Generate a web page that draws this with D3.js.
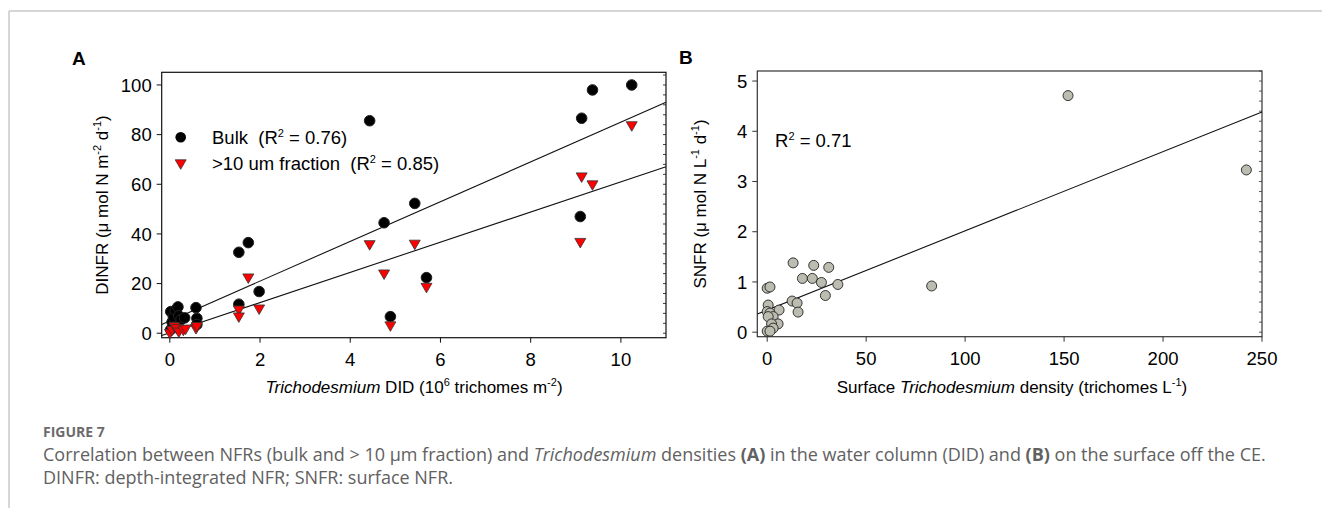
<!DOCTYPE html>
<html>
<head>
<meta charset="utf-8">
<script src="https://cdn.jsdelivr.net/npm/d3@7"></script>
<style>
  body { margin: 0; background: #fff; }
  svg text { font-family: Arial, "Liberation Sans", sans-serif; white-space: pre; }
  .cap { font-family: "Open Sans", "Noto Sans", sans-serif !important; }
</style>
</head>
<body>
<script>
// panel A: depth-integrated NFR vs Trichodesmium DID
const bulkX = [0.02, 0.05, 0.08, 0.1, 0.12, 0.18, 0.2, 0.25, 0.33, 0.02, 0.58, 0.6, 0.6,
               1.53, 1.74, 1.53, 1.98, 4.43, 4.75, 4.89, 5.43, 5.69, 9.1, 9.13, 9.37, 10.24];
const bulkY = [8.7, 4.5, 6.5, 2.5, 9.3, 10.6, 7.0, 5.5, 6.2, 1.5, 10.3, 6.0, 3.5,
               32.6, 36.5, 11.7, 16.8, 85.6, 44.5, 6.7, 52.3, 22.4, 47.0, 86.6, 98.0, 100.0];
const fracX = [0.0, 0.05, 0.1, 0.15, 0.2, 0.3, 0.35, 0.58, 0.6,
               1.53, 1.53, 1.74, 1.98, 4.43, 4.75, 4.89, 5.43, 5.69, 9.1, 9.13, 9.37, 10.24];
const fracY = [0.3, 1.5, 3.0, 2.2, 0.8, 1.5, 2.0, 2.2, 3.0,
               9.7, 6.9, 22.6, 10.1, 36.0, 24.2, 3.3, 36.2, 18.8, 36.9, 63.3, 60.1, 83.9];
const fitSlopeA = [8.0, 6.08];
const fitInterceptA = [5.0, 0.2];
const xTicksA = [0, 2, 4, 6, 8, 10];
const yTicksA = [0, 20, 40, 60, 80, 100];

// panel B: surface NFR vs surface Trichodesmium density
const surfX = [13.1, 23.5, 31.1, 17.8, 22.8, 27.4, 35.7, 29.4, 12.6, 15.1, 15.6, 6.0,
               0.0, 1.4, 0.5, 0.0, 1.4, 3.0, 0.5, 5.5, 2.2, 3.0, 0.0, 1.4, 83.1, 152.0, 242.1];
const surfY = [1.38, 1.33, 1.29, 1.07, 1.07, 0.99, 0.95, 0.73, 0.62, 0.58, 0.40, 0.44,
               0.875, 0.9, 0.54, 0.41, 0.38, 0.31, 0.31, 0.165, 0.165, 0.08, 0.02, 0.02, 0.92, 4.71, 3.23];
const fitB = [0.01577, 0.44];
const xTicksB = [0, 50, 100, 150, 200, 250];
const yTicksB = [0, 1, 2, 3, 4, 5];

width = 1322;
height = 508;
svg = d3.select('body').append('svg')
  .attr('width', width)
  .attr('height', height);

// page frame
svg.append('line').attr('x1', 9).attr('x2', width).attr('y1', 11).attr('y2', 11)
  .attr('stroke', '#c9c9c9').attr('stroke-width', 1.5);
svg.append('line').attr('x1', 9).attr('x2', 9).attr('y1', 11).attr('y2', height)
  .attr('stroke', '#c9c9c9').attr('stroke-width', 1.5);

function drawFrame(g, x, y, xTicks, yTicks, minorStep, minorMax, color) {
  const [x0, x1] = x.range();
  const [y0, y1] = y.range();
  g.append('rect').attr('x', x0).attr('y', y1).attr('width', x1 - x0).attr('height', y0 - y1)
    .attr('fill', 'none').attr('stroke', color).attr('stroke-width', 1.2);
  // left ticks + labels
  yTicks.forEach(t => {
    g.append('line').attr('x1', x0 - 5).attr('x2', x0).attr('y1', y(t)).attr('y2', y(t))
      .attr('stroke', color);
    g.append('text').attr('x', x0 - 10).attr('y', y(t)).attr('dy', '0.36em')
      .attr('text-anchor', 'end').style('font-size', '18.5px').text(t);
  });
  xTicks.forEach(t => {
    g.append('line').attr('x1', x(t)).attr('x2', x(t)).attr('y1', y0).attr('y2', y0 + 5)
      .attr('stroke', color);
    g.append('text').attr('x', x(t)).attr('y', y0 + 28)
      .attr('text-anchor', 'middle').style('font-size', '18.5px').text(t);
  });
  // minor ticks on the right axis
  d3.range(0, minorMax + minorStep / 2, minorStep).forEach(t => {
    g.append('line').attr('x1', x1 - 3).attr('x2', x1).attr('y1', y(t)).attr('y2', y(t))
      .attr('stroke', color).attr('stroke-width', 0.8);
  });
}

function fitLine(g, x, slope, intercept) {
  const [a, b] = x.domain();
  g.append('line')
    .attr('x1', x(a)).attr('y1', g.yScale(slope * a + intercept))
    .attr('x2', x(b)).attr('y2', g.yScale(slope * b + intercept))
    .attr('stroke', '#111').attr('stroke-width', 1.1);
}

// superscript helper
function sup(t, s) {
  t.append('tspan').attr('dy', -7).style('font-size', '11px').text(s);
}
function back(t, s) {
  t.append('tspan').attr('dy', 7).text(s);
}

const triPath = 'M-5.5,-3.2L5.5,-3.2L0,6.3Z';

// ---------- panel A ----------
xA = d3.scaleLinear().domain([-0.18, 11.0]).range([161.7, 666]);
yA = d3.scaleLinear().domain([-1.8, 105.1]).range([337.7, 72.3]);
gA = svg.append('g');
gA.yScale = yA;
drawFrame(gA, xA, yA, xTicksA, yTicksA, 4, 104, '#111');
fitLine(gA, xA, fitSlopeA[0], fitInterceptA[0]);
fitLine(gA, xA, fitSlopeA[1], fitInterceptA[1]);

gA.selectAll('.bulk').data(bulkX).join('circle')
  .attr('cx', d => xA(d)).attr('cy', (d, i) => yA(bulkY[i])).attr('r', 5.3)
  .attr('fill', '#000').attr('stroke', '#222');
gA.selectAll('.frac').data(fracX).join('path')
  .attr('d', triPath)
  .attr('transform', (d, i) => 'translate(' + xA(d) + ',' + yA(fracY[i]) + ')')
  .attr('fill', '#ff0000').attr('stroke', '#333').attr('stroke-width', 0.8);

// legend
gA.append('circle').attr('cx', 180.7).attr('cy', 137.3).attr('r', 5.3).attr('fill', '#000');
gA.append('path').attr('d', triPath).attr('transform', 'translate(180.7,163)')
  .attr('fill', '#ff0000').attr('stroke', '#333').attr('stroke-width', 0.8);
leg1 = gA.append('text').attr('x', 212).attr('y', 144).style('font-size', '18.5px');
leg1.append('tspan').text('Bulk  (R');
sup(leg1, '2');
back(leg1, ' = 0.76)');
leg2 = gA.append('text').attr('x', 212).attr('y', 170).style('font-size', '18.5px');
leg2.append('tspan').text('>10 um fraction  (R');
sup(leg2, '2');
back(leg2, ' = 0.85)');

gA.append('text').attr('x', 72).attr('y', 65).style('font-size', '19px')
  .style('font-weight', 'bold').text('A');

ytA = gA.append('text').attr('transform', 'translate(108,205) rotate(-90)')
  .attr('text-anchor', 'middle').style('font-size', '17px');
ytA.append('tspan').text('DINFR (μ mol N m');
sup(ytA, '-2');
back(ytA, ' d');
sup(ytA, '-1');
back(ytA, ')');

xtA = gA.append('text').attr('x', 414).attr('y', 393)
  .attr('text-anchor', 'middle').style('font-size', '17px');
xtA.append('tspan').style('font-style', 'italic').text('Trichodesmium');
xtA.append('tspan').text(' DID (10');
sup(xtA, '6');
back(xtA, ' trichomes m');
sup(xtA, '-2');
back(xtA, ')');

// ---------- panel B ----------
xB = d3.scaleLinear().domain([-5, 250]).range([757.3, 1262]);
yB = d3.scaleLinear().domain([-0.09, 5.2]).range([336.7, 71]);
gB = svg.append('g');
gB.yScale = yB;
drawFrame(gB, xB, yB, xTicksB, yTicksB, 0.2, 5.2, '#333');
fitLine(gB, xB, fitB[0], fitB[1]);

gB.selectAll('.surf').data(surfX).join('circle')
  .attr('cx', d => xB(d)).attr('cy', (d, i) => yB(surfY[i])).attr('r', 5)
  .attr('fill', '#bcbcb0').attr('stroke', '#222').attr('stroke-width', 0.9);

rB = gB.append('text').attr('x', 775).attr('y', 147).style('font-size', '18.5px');
rB.append('tspan').text('R');
sup(rB, '2');
back(rB, ' = 0.71');

gB.append('text').attr('x', 679).attr('y', 64).style('font-size', '19px')
  .style('font-weight', 'bold').text('B');

ytB = gB.append('text').attr('transform', 'translate(706,204) rotate(-90)')
  .attr('text-anchor', 'middle').style('font-size', '17px');
ytB.append('tspan').text('SNFR (μ mol N L');
sup(ytB, '-1');
back(ytB, ' d');
sup(ytB, '-1');
back(ytB, ')');

xtB = gB.append('text').attr('x', 1012).attr('y', 393)
  .attr('text-anchor', 'middle').style('font-size', '17px');
xtB.append('tspan').text('Surface ');
xtB.append('tspan').style('font-style', 'italic').text('Trichodesmium');
xtB.append('tspan').text(' density (trichomes L');
sup(xtB, '-1');
back(xtB, ')');

// ---------- caption ----------
svg.append('text').attr('class', 'cap').attr('x', 43).attr('y', 437)
  .style('font-size', '14px').style('font-weight', 'bold').attr('fill', '#6b6b6b')
  .text('FIGURE 7');
cap1 = svg.append('text').attr('class', 'cap').attr('x', 43).attr('y', 461)
  .style('font-size', '18px').attr('fill', '#616161');
cap1.append('tspan').text('Correlation between NFRs (bulk and > 10 μm fraction) and ');
cap1.append('tspan').style('font-style', 'italic').text('Trichodesmium');
cap1.append('tspan').text(' densities ');
cap1.append('tspan').style('font-weight', 'bold').text('(A)');
cap1.append('tspan').text(' in the water column (DID) and ');
cap1.append('tspan').style('font-weight', 'bold').text('(B)');
cap1.append('tspan').text(' on the surface off the CE.');
svg.append('text').attr('class', 'cap').attr('x', 43).attr('y', 484)
  .style('font-size', '18px').attr('fill', '#616161')
  .text('DINFR: depth-integrated NFR; SNFR: surface NFR.');
</script>
</body>
</html>
